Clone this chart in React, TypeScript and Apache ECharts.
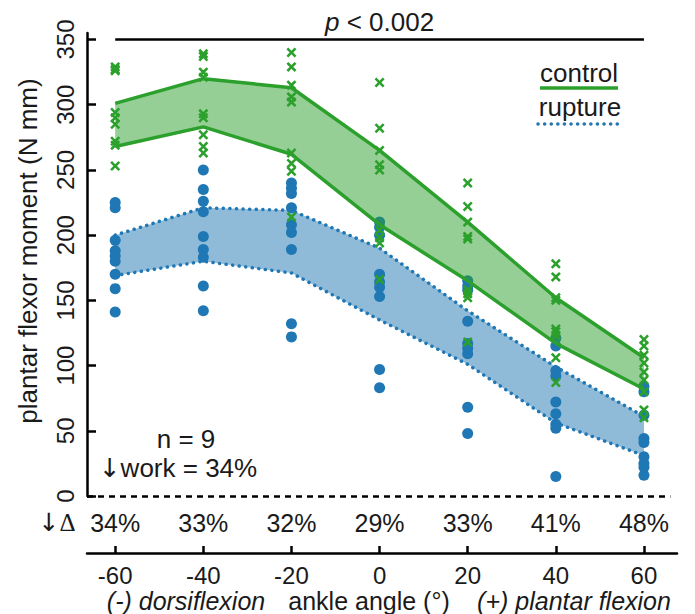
import React, { useEffect, useRef } from "react";
import * as echarts from "echarts";

const angles = [-60, -40, -20, 0, 20, 40, 60];
const deltaLabels = ["34%", "33%", "32%", "29%", "33%", "41%", "48%"];
const yTicks = [0, 50, 100, 150, 200, 250, 300, 350];

const controlUpper = [301, 320, 313, 265, 210, 152, 106];
const controlLower = [268, 283, 262, 208, 165, 117, 82];
const ruptureUpper = [200, 221, 219, 190, 142, 99, 61];
const ruptureLower = [169, 180, 171, 135, 101, 56, 31];

const controlPoints = [
  [329, 327, 326, 294, 290, 285, 272, 269, 253],
  [339, 337, 325, 321, 293, 290, 277, 268, 263],
  [340, 329, 315, 306, 302, 263, 255, 249, 214],
  [317, 282, 265, 254, 250, 204, 198, 194, 166],
  [240, 222, 210, 199, 197, 158, 155, 152, 118],
  [178, 168, 152, 150, 128, 126, 123, 106, 87],
  [120, 115, 108, 102, 95, 89, 80, 66, 60],
];
const rupturePoints = [
  [225, 221, 196, 188, 184, 180, 170, 159, 141],
  [250, 235, 226, 218, 199, 189, 183, 161, 142],
  [240, 236, 232, 221, 208, 202, 189, 132, 122],
  [210, 206, 200, 170, 164, 160, 153, 97, 83],
  [165, 161, 158, 134, 117, 113, 109, 68, 48],
  [121, 115, 96, 92, 72, 63, 55, 52, 15],
  [84, 80, 62, 44, 41, 30, 25, 22, 16],
];

const GREEN = "#2ca02c";
const BLUE = "#1f77b4";
const TEXT = "#1a1a1a";
const FONT = "Liberation Sans, Arial, Helvetica, sans-serif";
const ARROW_FONT = "DejaVu Sans, Liberation Sans, sans-serif";
const X_MIN = -66.4;
const X_MAX = 67.5;
const CROSS = "path://M1.8,0L5,3.2L8.2,0L10,1.8L6.8,5L10,8.2L8.2,10L5,6.8L1.8,10L0,8.2L3.2,5L0,1.8Z";
const DOTTED = { type: [0.1, 6.5] as any, cap: "round" as any, width: 3.5, color: BLUE };

function band(upper: number[], lower: number[], fill: string, z: number) {
  return {
    type: "custom",
    z,
    silent: true,
    data: angles.map((a, i) => [a, upper[i], lower[i]]),
    encode: { x: 0, y: [1, 2] },
    renderItem: (params: any, api: any) => {
      if (params.dataIndex !== 0) return null;
      const top = angles.map((a, i) => api.coord([a, upper[i]]));
      const bottom = angles.map((a, i) => api.coord([a, lower[i]])).reverse();
      return {
        type: "polygon",
        shape: { points: top.concat(bottom) },
        style: { fill, stroke: "none" },
      };
    },
  };
}

function edge(values: number[], lineStyle: any, z: number) {
  return {
    type: "line",
    symbol: "none",
    z,
    silent: true,
    lineStyle,
    data: angles.map((a, i) => [a, values[i]]),
  };
}

function label(text: string, x: number, y: number, size: number, extra: any = {}) {
  return {
    type: "text",
    x,
    y,
    style: {
      text,
      fontSize: size,
      fontFamily: FONT,
      fill: TEXT,
      align: "center",
      verticalAlign: "middle",
      ...extra,
    },
  };
}

export default function App() {
  const ref = useRef<HTMLDivElement>(null);
  useEffect(() => {
    if (!ref.current) return;
    const chart = echarts.init(ref.current, null, { renderer: "svg" });
    const flat = (pts: number[][]) =>
      pts.flatMap((col, i) => col.map((v) => [angles[i], v]));
    const greenLine = { color: GREEN, width: 3.5 };
    const option: any = {
      animation: false,
      textStyle: { fontFamily: FONT },
      grid: { left: 87, right: 18, top: 33, bottom: 118 },
      xAxis: [
        {
          type: "value",
          min: X_MIN,
          max: X_MAX,
          position: "bottom",
          offset: 57,
          splitLine: { show: false },
          axisLine: { onZero: false, lineStyle: { color: "#000", width: 2.5 } },
          axisTick: { inside: true, length: 7, customValues: angles, lineStyle: { color: "#000", width: 2.5 } },
          axisLabel: { customValues: angles, fontSize: 24, color: TEXT, margin: 10, fontFamily: FONT },
        },
        {
          type: "value",
          min: X_MIN,
          max: X_MAX,
          position: "bottom",
          offset: 6,
          splitLine: { show: false },
          axisLine: { show: false, onZero: false },
          axisTick: { show: false },
          axisLabel: {
            customValues: angles,
            fontSize: 25,
            color: TEXT,
            margin: 8,
            fontFamily: FONT,
            formatter: (v: number) => deltaLabels[angles.indexOf(v)] ?? "",
          },
        },
      ],
      yAxis: {
        type: "value",
        min: 0,
        max: 355,
        splitLine: { show: false },
        axisLine: { onZero: false, lineStyle: { color: "#000", width: 2.5 } },
        axisTick: { inside: true, length: 9, customValues: yTicks, lineStyle: { color: "#000", width: 2.5 } },
        axisLabel: { customValues: yTicks, rotate: 90, fontSize: 24, color: TEXT, margin: 10, fontFamily: FONT },
      },
      series: [
        {
          type: "scatter",
          name: "rupture points",
          symbol: "circle",
          symbolSize: 11,
          itemStyle: { color: BLUE, opacity: 1 },
          z: 1,
          data: flat(rupturePoints),
          markLine: {
            silent: true,
            symbol: "none",
            animation: false,
            data: [
              [
                {
                  coord: [-60, 350],
                  lineStyle: { color: "#000", width: 2.5, type: "solid" },
                  label: {
                    show: true,
                    position: "middle",
                    distance: 5,
                    formatter: "{i|p} < 0.002",
                    color: TEXT,
                    fontSize: 26,
                    fontFamily: FONT,
                    rich: { i: { fontStyle: "italic", fontSize: 26, fontFamily: FONT, color: TEXT } },
                  },
                },
                { coord: [60, 350] },
              ],
              [
                {
                  coord: [X_MIN, 0],
                  lineStyle: { color: "#000", width: 2.5, type: [6, 5] },
                  label: { show: false },
                },
                { coord: [66, 0] },
              ],
            ],
          },
        },
        band(controlUpper, controlLower, "rgba(44,160,44,0.5)", 2),
        band(ruptureUpper, ruptureLower, "rgba(31,119,180,0.5)", 2),
        edge(controlUpper, greenLine, 3),
        edge(controlLower, greenLine, 3),
        edge(ruptureUpper, DOTTED, 3),
        edge(ruptureLower, DOTTED, 3),
        {
          type: "scatter",
          name: "control points",
          symbol: CROSS,
          symbolSize: 10,
          itemStyle: { color: GREEN, opacity: 1 },
          z: 4,
          data: flat(controlPoints),
        },
      ],
      graphic: [
        {
          type: "text",
          x: 28,
          y: 251,
          rotation: Math.PI / 2,
          style: {
            text: "plantar flexor moment (N mm)",
            fontSize: 26,
            fontFamily: FONT,
            fill: TEXT,
            align: "center",
            verticalAlign: "middle",
          },
        },
        label("control", 579, 73, 26),
        { type: "line", shape: { x1: 540, y1: 88, x2: 618, y2: 88 }, style: { stroke: GREEN, lineWidth: 3.5 } },
        label("rupture", 580, 107, 26),
        {
          type: "line",
          shape: { x1: 538, y1: 124, x2: 621, y2: 124 },
          style: { stroke: BLUE, lineWidth: 3.5, lineDash: [0.1, 6.5], lineCap: "round" },
        },
        label("n = 9", 186, 439, 26),
        label("{a|↓}work = 34%", 178, 468, 26, {
          lineHeight: 26,
          rich: { a: { fontFamily: ARROW_FONT, fontSize: 26, fill: TEXT, lineHeight: 26 } },
        }),
        label("{a|↓}{d|Δ}", 57, 522, 25, {
          rich: {
            a: { fontFamily: ARROW_FONT, fontSize: 25, fill: TEXT },
            d: { fontFamily: "Liberation Serif, DejaVu Serif, serif", fontSize: 25, fill: TEXT },
          },
        }),
        label("(-) dorsiflexion", 186, 600.5, 25, { fontStyle: "italic" }),
        label("ankle angle (°)", 369, 600.5, 25),
        label("(+) plantar flexion", 574, 600.5, 25, { fontStyle: "italic" }),
      ],
    };
    chart.setOption(option);
    return () => chart.dispose();
  }, []);
  return (
    <div
      ref={ref}
      style={{ position: "fixed", left: 0, top: 0, width: 695, height: 614, background: "#fff" }}
    />
  );
}
